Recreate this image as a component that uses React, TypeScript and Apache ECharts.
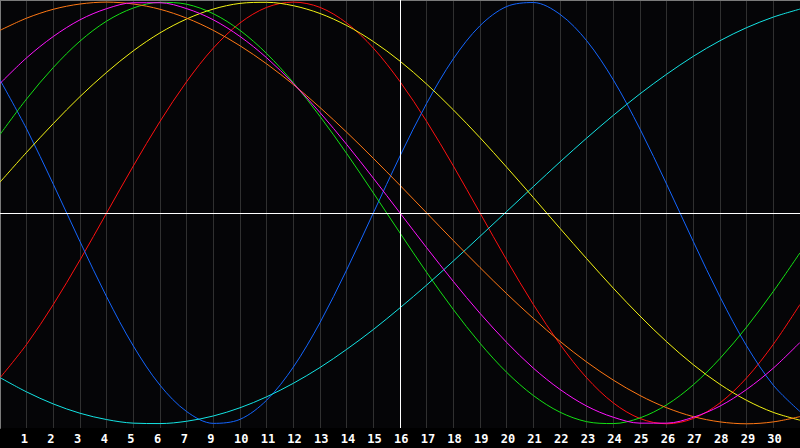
import React, { useEffect, useRef } from 'react';
import * as echarts from 'echarts';

// day offsets along the x axis (0 .. 30)
const days = [0, 1, 2, 3, 4, 5, 6, 7, 8, 9, 10, 11, 12, 13, 14, 15, 16, 17, 18, 19, 20, 21, 22, 23, 24, 25, 26, 27, 28, 29, 30];

// labels shown under grid lines 1 .. 29
const tickDays = [1, 2, 3, 4, 5, 6, 7, 8, 9, 10, 11, 12, 13, 14, 15, 16, 17, 18, 19, 20, 21, 22, 23, 24, 25, 26, 27, 28, 29];
const tickLabels = ['1', '2', '3', '4', '5', '6', '7', '9', '10', '11', '12', '13', '14', '15', '16', '17', '18', '19', '20', '21', '22', '23', '24', '25', '26', '27', '28', '29', '30'];

const today = 15;

const red = [-0.782, -0.623, -0.434, -0.223, 0, 0.223, 0.434, 0.623, 0.782, 0.901, 0.975, 1, 0.975, 0.901, 0.782, 0.623, 0.434, 0.223, 0, -0.223, -0.434, -0.623, -0.782, -0.901, -0.975, -1, -0.975, -0.901, -0.782, -0.623, -0.434];
const blue = [0.631, 0.398, 0.136, -0.136, -0.398, -0.631, -0.817, -0.942, -0.998, -0.979, -0.888, -0.731, -0.52, -0.27, 0, 0.27, 0.52, 0.731, 0.888, 0.979, 0.998, 0.942, 0.817, 0.631, 0.398, 0.136, -0.136, -0.398, -0.631, -0.817, -0.942];
const green = [0.372, 0.541, 0.69, 0.815, 0.91, 0.972, 0.999, 0.99, 0.945, 0.866, 0.756, 0.618, 0.458, 0.282, 0.095, -0.095, -0.282, -0.458, -0.618, -0.756, -0.866, -0.945, -0.99, -0.999, -0.972, -0.91, -0.815, -0.69, -0.541, -0.372, -0.189];
const cyan = [-0.781, -0.849, -0.906, -0.95, -0.98, -0.997, -0.999, -0.988, -0.963, -0.924, -0.872, -0.808, -0.733, -0.647, -0.553, -0.45, -0.342, -0.228, -0.111, 0.007, 0.125, 0.242, 0.355, 0.463, 0.565, 0.658, 0.743, 0.817, 0.879, 0.929, 0.967];
const yellow = [0.146, 0.288, 0.424, 0.552, 0.667, 0.769, 0.854, 0.92, 0.967, 0.994, 0.999, 0.983, 0.946, 0.889, 0.813, 0.72, 0.611, 0.489, 0.357, 0.217, 0.073, -0.073, -0.217, -0.357, -0.489, -0.611, -0.72, -0.813, -0.889, -0.946, -0.983];
const orange = [0.866, 0.924, 0.966, 0.991, 1, 0.991, 0.966, 0.924, 0.866, 0.793, 0.707, 0.609, 0.5, 0.383, 0.259, 0.131, 0, -0.131, -0.259, -0.383, -0.5, -0.609, -0.707, -0.793, -0.866, -0.924, -0.966, -0.991, -1, -0.991, -0.966];
const magenta = [0.614, 0.736, 0.837, 0.916, 0.969, 0.997, 0.997, 0.969, 0.916, 0.837, 0.736, 0.614, 0.476, 0.325, 0.165, 0, -0.165, -0.325, -0.476, -0.614, -0.736, -0.837, -0.916, -0.969, -0.997, -0.997, -0.969, -0.916, -0.837, -0.736, -0.614];

const curves = [
    { name: 'red', values: red, color: '#ff1010' },
    { name: 'blue', values: blue, color: '#1466ff' },
    { name: 'green', values: green, color: '#14e014' },
    { name: 'cyan', values: cyan, color: '#14e4e4' },
    { name: 'yellow', values: yellow, color: '#f4f414' },
    { name: 'orange', values: orange, color: '#ff7814' },
    { name: 'magenta', values: magenta, color: '#ff14ff' }
];

// labels start ~6px left of their grid line (6px = 0.225 day at 800px / 30 days)
const LABEL_SHIFT = 0.225;

const App: React.FC = () => {
    const chartRef = useRef<HTMLDivElement>(null);

    useEffect(() => {
        if (!chartRef.current) return;
        document.body.style.margin = '0';
        document.body.style.background = '#000';

        const chart = echarts.init(chartRef.current, null, { renderer: 'svg' });

        const series: any[] = curves.map(c => ({
            name: c.name,
            type: 'line',
            data: days.map((d, i) => [d, c.values[i]]),
            smooth: 0.33,
            showSymbol: false,
            lineStyle: { color: c.color, width: 1 },
            itemStyle: { color: c.color },
            silent: true
        }));

        // white midline and "today" marker
        series[0].markLine = {
            silent: true,
            symbol: 'none',
            label: { show: false },
            lineStyle: { color: '#ffffff', width: 1, type: 'solid' },
            data: [{ yAxis: 0 }, { xAxis: today }]
        };

        const option = {
            animation: false,
            backgroundColor: '#000',
            grid: {
                left: 0, right: 0, top: 0, bottom: 20,
                show: true,
                backgroundColor: '#050507',
                borderWidth: 0
            },
            xAxis: [
                {
                    type: 'value',
                    min: 0,
                    max: 30,
                    interval: 1,
                    axisLine: { show: true, lineStyle: { color: '#9a9a9a', width: 1 } },
                    axisTick: { show: false },
                    axisLabel: { show: false },
                    splitLine: { show: true, lineStyle: { color: '#303030', width: 1 } }
                },
                {
                    type: 'value',
                    position: 'top',
                    min: 0,
                    max: 30,
                    axisLine: { show: true, lineStyle: { color: '#7a7a7a', width: 2 } },
                    axisTick: { show: false },
                    axisLabel: { show: false },
                    splitLine: { show: false }
                },
                {
                    // label-only axis, offset a little to the left
                    type: 'value',
                    position: 'bottom',
                    min: LABEL_SHIFT,
                    max: 30 + LABEL_SHIFT,
                    axisLine: { show: false },
                    axisTick: { show: false },
                    splitLine: { show: false },
                    axisLabel: {
                        show: true,
                        customValues: tickDays,
                        align: 'left',
                        margin: 5,
                        color: '#ffffff',
                        fontFamily: 'DejaVu Sans Mono',
                        fontWeight: 'bold',
                        fontSize: 12,
                        formatter: (v: number) => {
                            const i = tickDays.indexOf(Math.round(v));
                            return i >= 0 ? tickLabels[i] : '';
                        }
                    }
                }
            ],
            yAxis: {
                type: 'value',
                min: -1.02,
                max: 1.01,
                axisLine: { show: true, onZero: false, lineStyle: { color: '#7a7a7a', width: 2 } },
                axisTick: { show: false },
                axisLabel: { show: false },
                splitLine: { show: false }
            },
            series
        };

        chart.setOption(option);

        const handleResize = () => chart.resize();
        window.addEventListener('resize', handleResize);

        return () => {
            window.removeEventListener('resize', handleResize);
            chart.dispose();
        };
    }, []);

    return (
        <div
            ref={chartRef}
            style={{ position: 'fixed', left: 0, top: 0, width: 800, height: 448, background: '#000' }}
        />
    );
};

export default App;
